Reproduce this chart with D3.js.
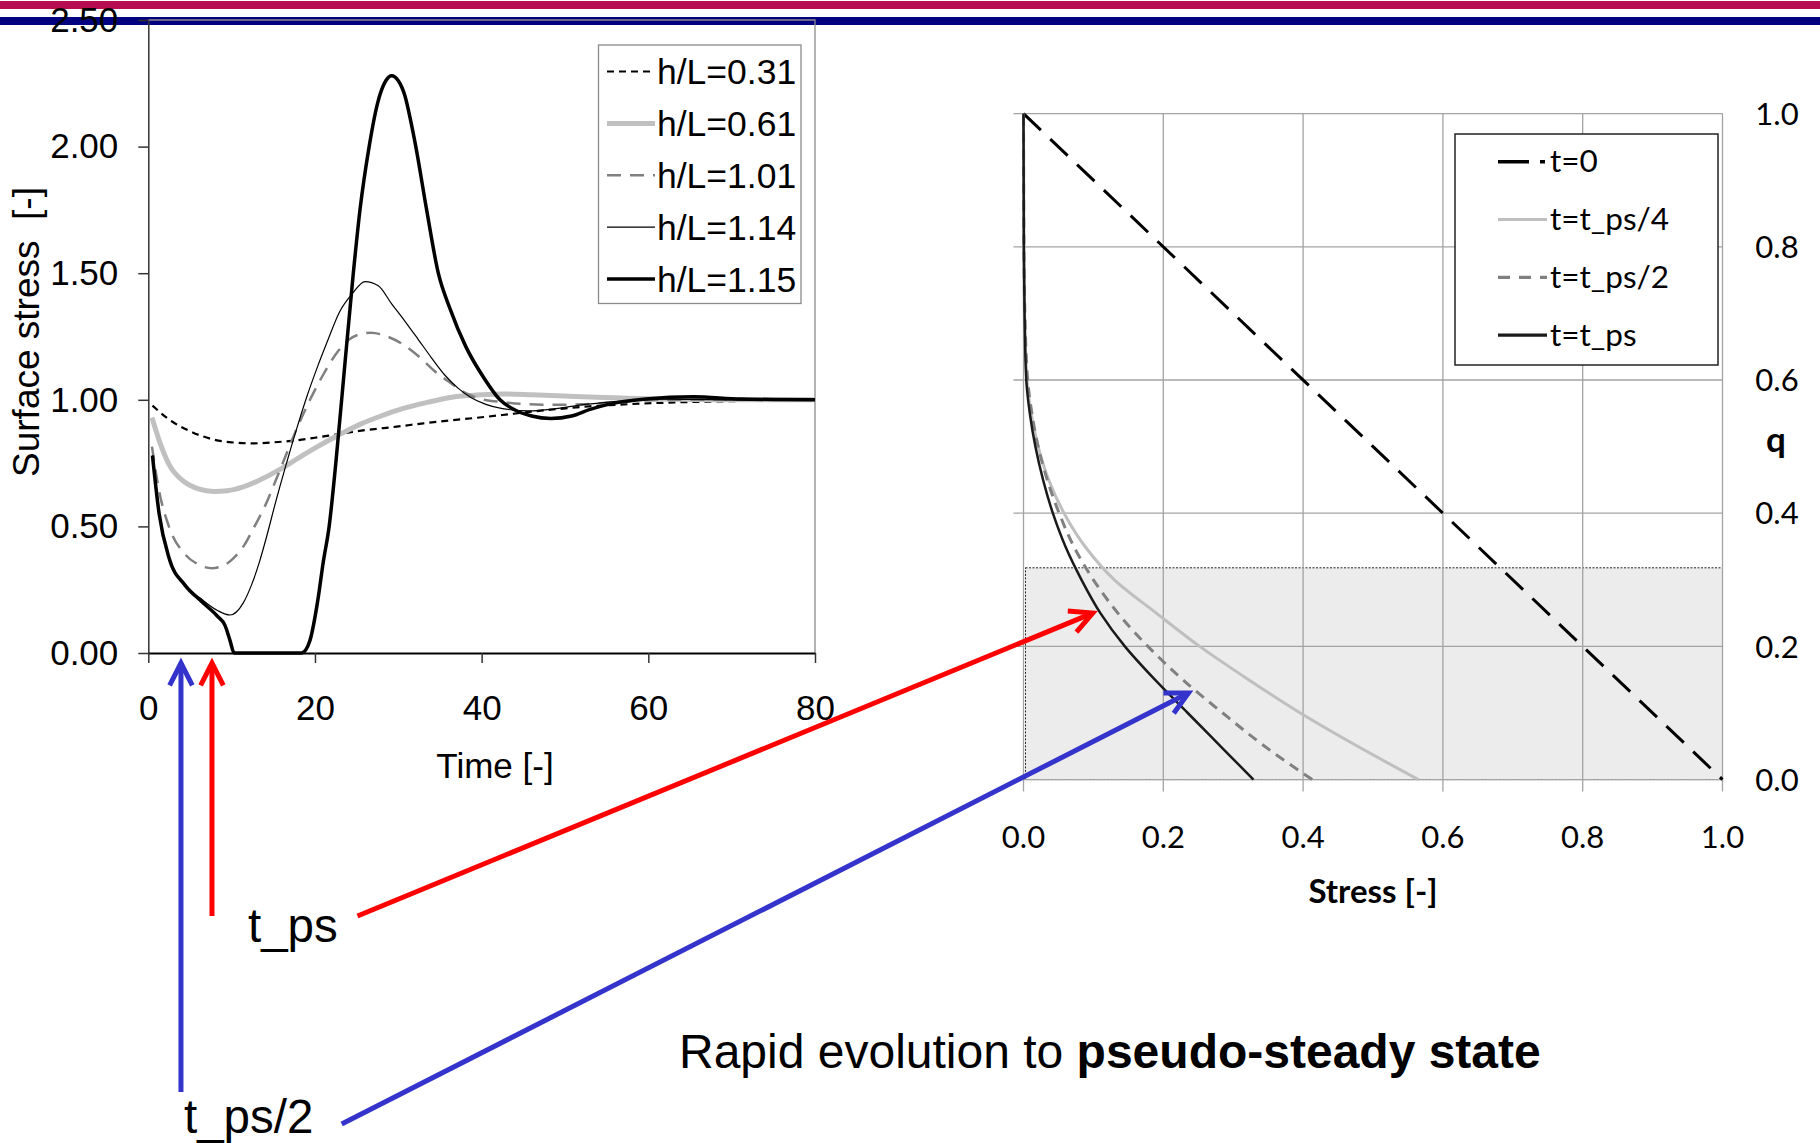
<!DOCTYPE html>
<html><head><meta charset="utf-8">
<script src="https://cdn.jsdelivr.net/npm/d3@7"></script>
<style>body{margin:0;background:#fff}</style>
</head><body>
<svg id="c" width="1820" height="1143" xmlns="http://www.w3.org/2000/svg"></svg>
<script>
// ---------------- DATA ----------------
// Left chart: surface stress vs time
const timeTicks = [0, 20, 40, 60, 80];
const surfaceTicks = [0, 0.5, 1.0, 1.5, 2.0, 2.5];
const leftSeriesNames = ["h/L=0.31", "h/L=0.61", "h/L=1.01", "h/L=1.14", "h/L=1.15"];

const hL031_t = [0.5, 2.5, 5, 7.6, 10, 12.5, 15, 17.8, 20, 22.9, 26, 29.8, 33, 36, 39.4, 42.5, 45.7, 49, 52, 56, 61.6, 66, 72, 80];
const hL031_v = [0.977, 0.922, 0.876, 0.845, 0.832, 0.828, 0.832, 0.84, 0.85, 0.865, 0.88, 0.894, 0.907, 0.918, 0.929, 0.94, 0.952, 0.963, 0.972, 0.98, 0.988, 0.992, 0.996, 1.0];

const hL061_t = [0.44, 1.3, 2.5, 4.4, 6, 7.9, 9.5, 11.4, 13.5, 15.9, 18, 20.3, 22.8, 25.4, 28, 30.5, 33.5, 36.8, 40, 42.5, 46, 52, 56, 61.6, 70, 80];
const hL061_v = [0.93, 0.84, 0.744, 0.674, 0.648, 0.638, 0.641, 0.656, 0.685, 0.727, 0.77, 0.815, 0.86, 0.903, 0.937, 0.965, 0.99, 1.012, 1.02, 1.023, 1.02, 1.012, 1.008, 1.003, 1.0, 1.0];

const hL101_t = [0.44, 1.3, 2.5, 4.4, 6, 7.6, 9, 10.2, 11.5, 12.7, 14, 15.2, 16.5, 17.8, 19.4, 20.95, 22.5, 24.1, 25.5, 26.7, 28.5, 30.5, 32.5, 34.3, 36.2, 38.1, 40.3, 42.5, 45.7, 49, 52, 55, 58.4, 64, 72, 80];
const hL101_v = [0.815, 0.64, 0.497, 0.39, 0.35, 0.335, 0.345, 0.374, 0.425, 0.497, 0.58, 0.674, 0.78, 0.885, 1.0, 1.097, 1.18, 1.238, 1.26, 1.265, 1.252, 1.22, 1.17, 1.115, 1.068, 1.026, 1.0, 0.991, 0.982, 0.98, 0.982, 0.988, 0.996, 1.0, 1.0, 1.0];

const hL114_t = [0.5, 1.3, 2.5, 4.4, 6.3, 8.3, 9.8, 11.4, 12.4, 13.3, 14.2, 15.2, 16.5, 17.8, 19, 20.3, 21.6, 22.9, 24.5, 26, 27.6, 29.2, 30.8, 32.4, 34, 35.6, 37.2, 38.7, 40.5, 42.5, 45.7, 48.9, 52, 55.2, 61.6, 70, 80];
const hL114_v = [0.78, 0.55, 0.374, 0.268, 0.215, 0.168, 0.15, 0.198, 0.27, 0.356, 0.46, 0.586, 0.74, 0.885, 1.01, 1.13, 1.24, 1.344, 1.42, 1.467, 1.45, 1.379, 1.31, 1.238, 1.165, 1.097, 1.045, 1.009, 0.982, 0.965, 0.956, 0.965, 0.98, 0.991, 1.003, 1.0, 1.0];

const hL115_t = [0.5, 1.3, 2.5, 4.4, 6.3, 8.3, 9.2, 9.8, 10.3, 18.4, 19.4, 20.3, 21, 21.7, 22.5, 23.2, 24.6, 25.4, 26.5, 27.5, 28.5, 29.2, 30, 30.8, 31.5, 32.1, 33.4, 34.8, 36.2, 38.1, 40.2, 42.2, 44, 46, 48.3, 50.8, 53, 55.2, 59.7, 65.4, 71.1, 80];
const hL115_v = [0.78, 0.55, 0.374, 0.268, 0.206, 0.145, 0.109, 0.05, 0, 0, 0.05, 0.2, 0.36, 0.5, 0.75, 1.0, 1.5, 1.75, 2.0, 2.17, 2.26, 2.28, 2.26, 2.2, 2.1, 2.0, 1.75, 1.5, 1.36, 1.21, 1.09, 1.0, 0.96, 0.936, 0.926, 0.936, 0.962, 0.982, 1.003, 1.012, 1.003, 1.0];

// Right chart: q vs stress
const stressTicks = [0, 0.2, 0.4, 0.6, 0.8, 1.0];
const qTicks = [0, 0.2, 0.4, 0.6, 0.8, 1.0];
const rightSeriesNames = ["t=0", "t=t_ps/4", "t=t_ps/2", "t=t_ps"];
const t0_q = [1.0, 0.0];
const t0_s = [0.0, 1.0];
const qLevels = [0, 0.05, 0.1, 0.15, 0.2, 0.25, 0.3, 0.35, 0.4, 0.45, 0.5, 0.55, 0.6, 0.7, 0.8, 1.0];
const tps4_s = [0.565, 0.478, 0.396, 0.322, 0.252, 0.19, 0.13, 0.088, 0.058, 0.036, 0.021, 0.011, 0.005, 0.0015, 0.0005, 0];
const tps2_s = [0.413, 0.345, 0.285, 0.228, 0.178, 0.135, 0.1, 0.072, 0.051, 0.034, 0.021, 0.012, 0.006, 0.002, 0.0006, 0];
const tps_s  = [0.329, 0.282, 0.235, 0.188, 0.145, 0.11, 0.083, 0.06, 0.042, 0.028, 0.017, 0.009, 0.004, 0.0015, 0.0005, 0];
const bandQ = [0, 0.318];      // shaded pseudo-steady region (q)
const bandS = [0, 1.0];

// Annotations
const tpsTime = 7.64, tps2Time = 3.92;           // arrow positions on time axis
const tpsPoint = [0.099, 0.25], tps2Point = [0.236, 0.13]; // arrow tips on stress/q chart

// ---------------- DRAW ----------------
const svg = d3.select("#c");
const ARIAL = "'Liberation Sans', Arial, sans-serif";
const CAL = "Lato, 'Open Sans', sans-serif";
svg.append("rect").attr("width", 1820).attr("height", 1143).attr("fill", "#fff");
// top decoration bands
svg.append("rect").attr("x", 0).attr("y", 1).attr("width", 1820).attr("height", 8).attr("fill", "#b80c50");
svg.append("rect").attr("x", 0).attr("y", 17).attr("width", 1820).attr("height", 8).attr("fill", "#000080");

// ----- Left chart -----
const xL = d3.scaleLinear().domain([0, 80]).range([148.3, 815]);
const yL = d3.scaleLinear().domain([0, 2.5]).range([653, 20]);
const gL = svg.append("g");

gL.append("path")
  .attr("d", `M${xL(0)},${yL(2.5)}H${xL(80)}V${yL(0)}`)
  .attr("fill", "none").attr("stroke", "#8a8a8a").attr("stroke-width", 1.3);

gL.append("g").attr("transform", `translate(${xL(0)},0)`)
  .call(d3.axisLeft(yL).tickValues(surfaceTicks).tickFormat(d3.format(".2f")).tickSize(10).tickSizeOuter(0).tickPadding(20))
  .call(g => {
    g.select(".domain").attr("stroke", "#333").attr("stroke-width", 1.5);
    g.selectAll(".tick line").attr("stroke", "#333").attr("stroke-width", 1.5);
    g.selectAll("text").attr("font-family", ARIAL).attr("font-size", 35).attr("fill", "#000");
  });

gL.append("g").attr("transform", `translate(0,${yL(0)})`)
  .call(d3.axisBottom(xL).tickValues(timeTicks).tickSize(10).tickSizeOuter(0).tickPadding(32))
  .call(g => {
    g.select(".domain").attr("stroke", "#000").attr("stroke-width", 2);
    g.selectAll(".tick line").attr("stroke", "#333").attr("stroke-width", 1.5);
    g.selectAll("text").attr("font-family", ARIAL).attr("font-size", 35).attr("fill", "#000");
  });

gL.append("text").attr("transform", "translate(39,332) rotate(-90)")
  .attr("text-anchor", "middle").attr("font-family", ARIAL).attr("font-size", 37)
  .style("white-space", "pre").text("Surface stress  [-]");
gL.append("text").attr("x", 495).attr("y", 778).attr("text-anchor", "middle")
  .attr("font-family", ARIAL).attr("font-size", 35).text("Time [-]");

const leftStyles = [
  { c: "#000", w: 2.2, d: "7,5" },
  { c: "#c0c0c0", w: 5, d: null },
  { c: "#808080", w: 2.5, d: "14,9" },
  { c: "#000", w: 1.2, d: null },
  { c: "#000", w: 3.5, d: null }
];
const leftData = [
  d3.zip(hL031_t, hL031_v), d3.zip(hL061_t, hL061_v), d3.zip(hL101_t, hL101_v),
  d3.zip(hL114_t, hL114_v), d3.zip(hL115_t, hL115_v)
];
const lineL = d3.line().x(d => xL(d[0])).y(d => yL(d[1])).curve(d3.curveMonotoneX);
leftData.forEach((ds, i) => {
  gL.append("path").attr("d", lineL(ds)).attr("fill", "none")
    .attr("stroke", leftStyles[i].c).attr("stroke-width", leftStyles[i].w)
    .attr("stroke-dasharray", leftStyles[i].d).attr("stroke-linejoin", "round");
});

// left legend
const legL = gL.append("g");
legL.append("rect").attr("x", 598.5).attr("y", 45).attr("width", 202.5).attr("height", 258.5)
  .attr("fill", "#fff").attr("stroke", "#8a8a8a").attr("stroke-width", 1.3);
leftSeriesNames.forEach((n, i) => {
  const y = 71.5 + i * 51.9;
  legL.append("line").attr("x1", 607).attr("x2", 655).attr("y1", y).attr("y2", y)
    .attr("stroke", leftStyles[i].c).attr("stroke-width", leftStyles[i].w)
    .attr("stroke-dasharray", leftStyles[i].d);
  legL.append("text").attr("x", 657).attr("y", y + 12.5).attr("font-family", ARIAL)
    .attr("font-size", 35.5).text(n);
});

// ----- Right chart -----
const xR = d3.scaleLinear().domain([0, 1]).range([1023.5, 1722.5]);
const yR = d3.scaleLinear().domain([0, 1]).range([779.6, 113.6]);
const gR = svg.append("g");

gR.append("rect").attr("x", xR(bandS[0]) + 2).attr("y", yR(bandQ[1]))
  .attr("width", xR(bandS[1]) - xR(bandS[0]) - 2).attr("height", yR(bandQ[0]) - yR(bandQ[1]))
  .attr("fill", "#ececec").attr("stroke", "#222").attr("stroke-width", 1).attr("stroke-dasharray", "2,1.5");

stressTicks.forEach(v => {
  gR.append("line").attr("x1", xR(v)).attr("x2", xR(v)).attr("y1", yR(1)).attr("y2", yR(0) + 12)
    .attr("stroke", "#a3a3a3").attr("stroke-width", 1.3);
  gR.append("text").attr("x", xR(v)).attr("y", 848).attr("text-anchor", "middle")
    .attr("font-family", CAL).attr("font-size", 31).text(d3.format(".1f")(v));
});
qTicks.forEach(v => {
  gR.append("line").attr("x1", xR(0) - 10).attr("x2", xR(1)).attr("y1", yR(v)).attr("y2", yR(v))
    .attr("stroke", "#a3a3a3").attr("stroke-width", 1.3);
  gR.append("text").attr("x", 1777).attr("y", yR(v)).attr("dy", "0.36em").attr("text-anchor", "middle")
    .attr("font-family", CAL).attr("font-size", 31).text(d3.format(".1f")(v));
});
gR.append("text").attr("x", 1373).attr("y", 903).attr("text-anchor", "middle")
  .attr("font-family", CAL).attr("font-weight", "bold").attr("font-size", 33).text("Stress [-]");
gR.append("text").attr("x", 1776).attr("y", 452).attr("text-anchor", "middle")
  .attr("font-family", CAL).attr("font-weight", "bold").attr("font-size", 35).text("q");

const rightStyles = [
  { c: "#000", w: 3, d: "24,13" },
  { c: "#bfbfbf", w: 3, d: null },
  { c: "#808080", w: 3, d: "10,7" },
  { c: "#1a1a1a", w: 2.5, d: null }
];
const rightData = [
  d3.zip(t0_s, t0_q), d3.zip(tps4_s, qLevels), d3.zip(tps2_s, qLevels), d3.zip(tps_s, qLevels)
];
const lineR = d3.line().x(d => xR(d[0])).y(d => yR(d[1])).curve(d3.curveMonotoneY);
rightData.forEach((ds, i) => {
  gR.append("path").attr("d", lineR(ds)).attr("fill", "none")
    .attr("stroke", rightStyles[i].c).attr("stroke-width", rightStyles[i].w)
    .attr("stroke-dasharray", rightStyles[i].d);
});

// right legend
const legR = gR.append("g");
legR.append("rect").attr("x", 1455).attr("y", 134).attr("width", 263).attr("height", 231)
  .attr("fill", "#fff").attr("stroke", "#222").attr("stroke-width", 1.5);
const legDash = ["31,11", null, "12,9", null];
rightSeriesNames.forEach((n, i) => {
  const y = 161.7 + i * 57.8;
  legR.append("line").attr("x1", 1498).attr("x2", i === 0 ? 1545 : 1547).attr("y1", y).attr("y2", y)
    .attr("stroke", rightStyles[i].c).attr("stroke-width", i === 0 ? 3.5 : 3.2)
    .attr("stroke-dasharray", legDash[i]);
  legR.append("text").attr("x", 1550).attr("y", y + 10.5).attr("font-family", CAL)
    .attr("font-size", 31.5).text(n);
});

// ----- Annotations -----
const RED = "#ff0000", BLUE = "#3434cc";
function arrow(x1, y1, x2, y2, color) {
  const a = Math.atan2(y2 - y1, x2 - x1), L = 25, h = 27 * Math.PI / 180;
  svg.append("line").attr("x1", x1).attr("y1", y1).attr("x2", x2).attr("y2", y2)
    .attr("stroke", color).attr("stroke-width", 5);
  const p1 = [x2 - L * Math.cos(a - h), y2 - L * Math.sin(a - h)];
  const p2 = [x2 - L * Math.cos(a + h), y2 - L * Math.sin(a + h)];
  svg.append("path").attr("d", `M${p1}L${x2},${y2}L${p2}`).attr("fill", "none")
    .attr("stroke", color).attr("stroke-width", 5).attr("stroke-linejoin", "miter");
}
arrow(xL(tps2Time), 1092, xL(tps2Time), yL(0) + 10, BLUE);
arrow(xL(tpsTime), 916, xL(tpsTime), yL(0) + 10, RED);
arrow(357.5, 916, xR(tpsPoint[0]), yR(tpsPoint[1]), RED);
arrow(341.7, 1124, xR(tps2Point[0]), yR(tps2Point[1]), BLUE);

svg.append("text").attr("x", 248).attr("y", 942).attr("font-family", ARIAL).attr("font-size", 47.5).text("t_ps");
svg.append("text").attr("x", 184).attr("y", 1133).attr("font-family", ARIAL).attr("font-size", 47.5).text("t_ps/2");

const bt = svg.append("text").attr("x", 679).attr("y", 1068).attr("font-family", ARIAL).attr("font-size", 48);
bt.append("tspan").text("Rapid evolution to ");
bt.append("tspan").attr("font-weight", "bold").text("pseudo-steady state");
</script>
</body></html>
